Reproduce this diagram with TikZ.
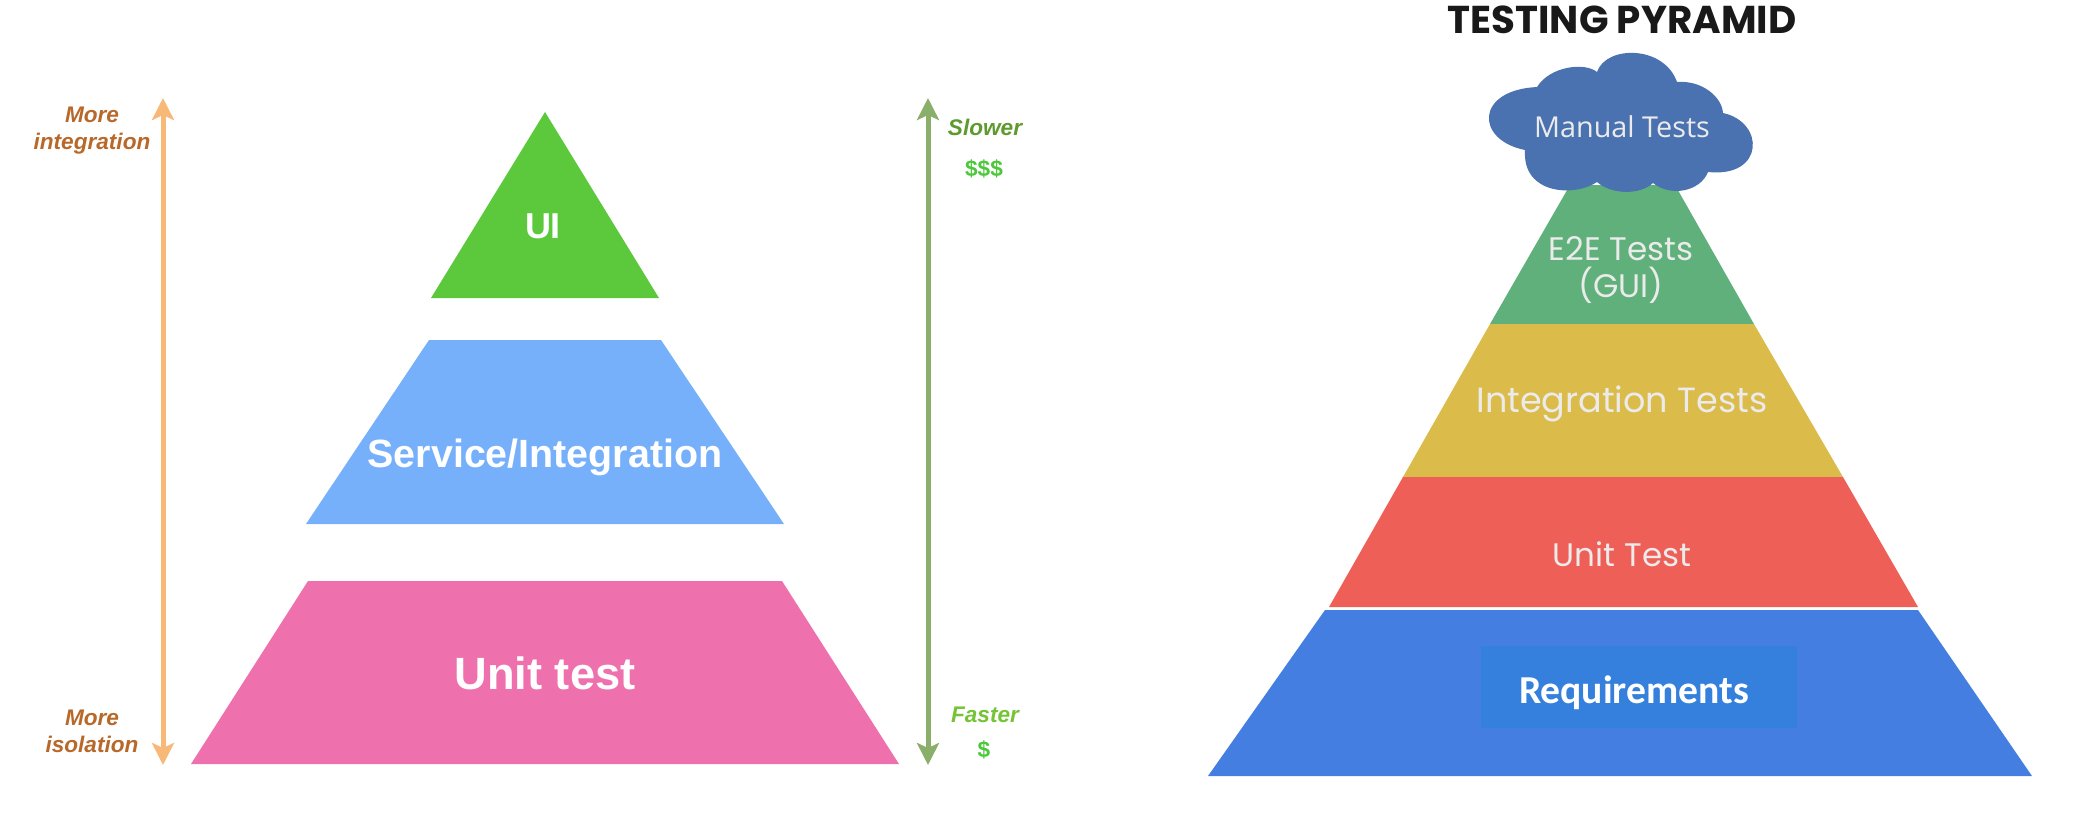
\documentclass[tikz,border=0pt]{standalone}
\usepackage{fontspec}
\setmainfont{Liberation Sans}
\newfontfamily\titlefont{Poppins}
\newfontfamily\bodyfont{Open Sans}
\newfontfamily\widefont{Poppins}
\newfontfamily\reqfont{Carlito}
\usetikzlibrary{arrows.meta}
\definecolor{ctri}{HTML}{5CC83B}
\definecolor{cserv}{HTML}{76B0FB}
\definecolor{cpink}{HTML}{EE71AE}
\definecolor{carrowo}{HTML}{F8B878}
\definecolor{carrowg}{HTML}{8AAF6B}
\definecolor{ctexto}{HTML}{B8692A}
\definecolor{cslow}{HTML}{5E9A2E}
\definecolor{cfast}{HTML}{74C436}
\definecolor{cdollar}{HTML}{4CC83A}
\definecolor{ccloud}{HTML}{4A72B0}
\definecolor{ce2e}{HTML}{5FB07A}
\definecolor{cint}{HTML}{DBBC4B}
\definecolor{cunit}{HTML}{EE5F58}
\definecolor{creq}{HTML}{447EE0}
\definecolor{crect}{HTML}{3580DD}
\tikzset{
  big/.style={text=white,font=\bfseries\fontsize{#1}{#1}\selectfont,inner sep=0pt},
  side/.style={text=#1,font=\bfseries\itshape\fontsize{11.3}{13.5}\selectfont,inner sep=0pt,align=center},
  money/.style={text=cdollar,font=\bfseries\fontsize{11.3}{13.5}\selectfont,inner sep=0pt},
  body/.style={text=white!92!black,font=\bodyfont\fontsize{#1}{#1}\selectfont,inner sep=0pt,align=center},
  wide/.style={text=white!92!black,font=\widefont\fontsize{#1}{#1}\selectfont,inner sep=0pt,align=center},
  doublearrow/.style={draw=#1,line width=2.5pt,{Stealth[length=11pt,width=11pt,inset=2.5pt]}-{Stealth[length=11pt,width=11pt,inset=2.5pt]}},
}
\begin{document}
\begin{tikzpicture}[x=0.5pt,y=-0.5pt]
\useasboundingbox (0,0) rectangle (2084,832);
% left pyramid
\fill[ctri] (545,112) -- (659,298) -- (431,298) -- cycle;
\fill[cserv] (429,340) -- (661,340) -- (784,524) -- (306,524) -- cycle;
\fill[cpink] (308,581) -- (782,581) -- (899,764) -- (191,764) -- cycle;
\node[big=18] (ui) at (543,226) {UI};
\node[big=19.7] (serv) at (545,457) {Service/Integration};
\node[big=22.6] (ut) at (545,673) {Unit test};
% arrows
\coordinate (ot) at (163,98);
\coordinate (ob) at (163,765);
\coordinate (gt) at (928,98);
\coordinate (gb) at (928,765);
\draw[doublearrow=carrowo] (ot) -- (ob);
\draw[doublearrow=carrowg] (gt) -- (gb);
\node[side=ctexto] (mi) at (92,131) {More\\integration};
\node[side=ctexto] (mo) at (92,731) {More\\isolation};
\node[side=cslow] (sl) at (985,127) {Slower};
\node[money] (d3) at (984,169) {\$\$\$};
\node[side=cfast] (fa) at (985,715) {Faster};
\node[money] (d1) at (984,750) {\$};
% right pyramid
\fill[ce2e] (1570,185) -- (1675,185) -- (1754,324) -- (1490,324) -- cycle;
\fill[cint] (1490,324) -- (1754,324) -- (1843,477) -- (1403,477) -- cycle;
\fill[cunit] (1403,477) -- (1843,477) -- (1918,607) -- (1329,607) -- cycle;
\fill[creq] (1325,610) -- (1918,610) -- (2032,776) -- (1208,776) -- cycle;
\fill[crect] (1481,646) rectangle (1797,728);
\fill[ccloud] (1525,150) .. controls (1475,140) and (1475,90) .. (1537,87)
  .. controls (1550,66) and (1585,62) .. (1597,72)
  .. controls (1606,45) and (1664,45) .. (1677,82)
  .. controls (1702,80) and (1722,97) .. (1723,113)
  .. controls (1765,122) and (1765,178) .. (1708,172)
  .. controls (1700,192) and (1670,197) .. (1653,183)
  .. controls (1640,195) and (1612,195) .. (1597,182)
  .. controls (1575,197) and (1522,195) .. (1525,150) -- cycle;
\node[inner sep=0pt,font=\titlefont\bfseries\fontsize{19.4}{19.4}\selectfont,text=black!90] (title) at (1622,20) {TESTING PYRAMID};
\node[body=14.4] (man) at (1622,127) {Manual Tests};
\node[wide=15,font=\widefont\fontsize{16.3}{18.5}\selectfont] (e2e) at (1621,270) {E2E Tests\\(GUI)};
\node[wide=17.5] (it) at (1622,404) {Integration Tests};
\node[wide=16.3] (ut2) at (1622,554) {Unit Test};
\node[inner sep=0pt,text=white,font=\reqfont\bfseries\fontsize{19.8}{19.8}\selectfont] (req) at (1634,693) {Requirements};
\end{tikzpicture}
\end{document}
